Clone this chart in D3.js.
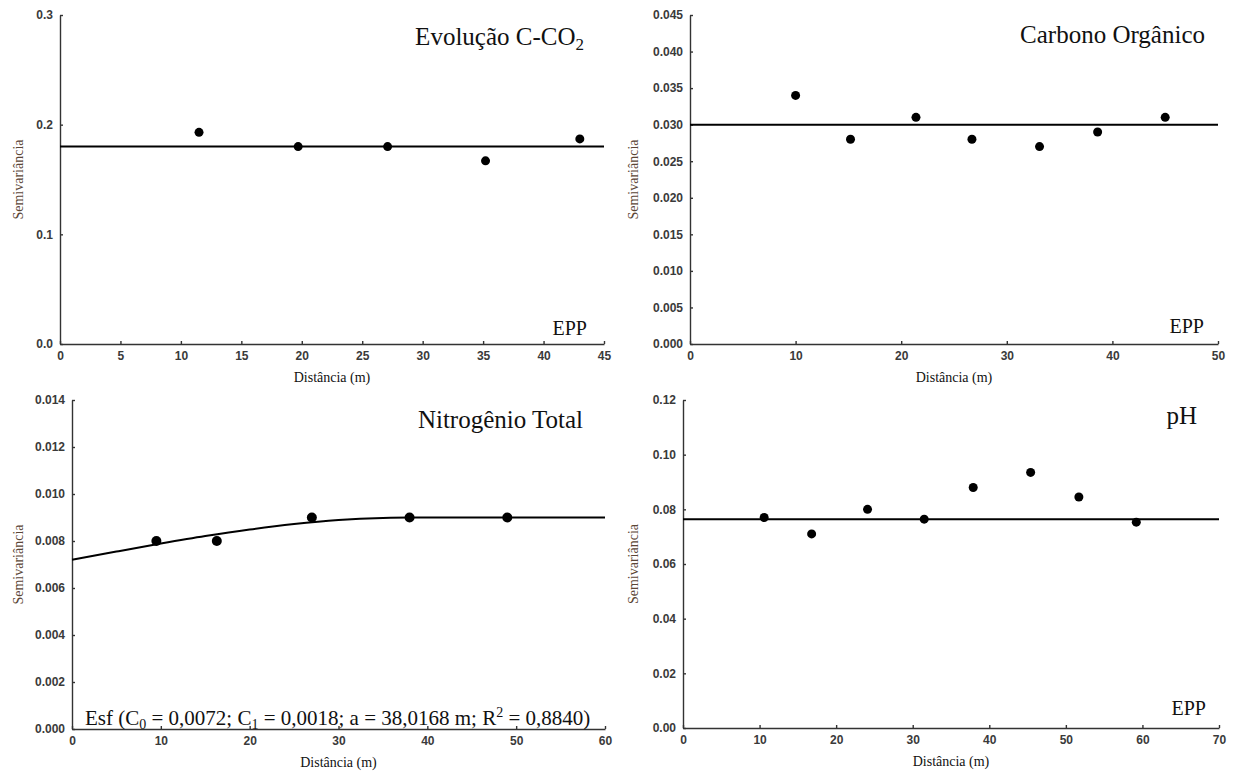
<!DOCTYPE html>
<html>
<head>
<meta charset="utf-8">
<script src="https://cdn.jsdelivr.net/npm/d3@7"></script>
<style>
  body { margin: 0; background: #fff; }
  .tick text { font-family: "Liberation Sans", Arial, sans-serif; font-size: 12px; font-weight: bold; fill: #3a3a3a; }
  .domain, .tick line { stroke: #333; stroke-width: 1.4; }
</style>
</head>
<body>
<svg id="chart" width="1235" height="772"></svg>
<script>

// Evolução C-CO2
var co2Lag = [11.5, 19.7, 27.1, 35.2, 43.0];
var co2Gamma = [0.193, 0.180, 0.180, 0.167, 0.187];
var co2Sill = 0.180;

// Carbono Orgânico
var cotLag = [10.0, 15.2, 21.4, 26.7, 33.1, 38.6, 45.0];
var cotGamma = [0.034, 0.028, 0.031, 0.028, 0.027, 0.029, 0.031];
var cotSill = 0.030;

// Nitrogênio Total (pontos e modelo esférico)
var ntLag = [9.5, 16.3, 27.0, 38.0, 49.0];
var ntGamma = [0.0080, 0.0080, 0.0090, 0.0090, 0.0090];
var ntModelLag = [0, 5, 10, 15, 20, 25, 30, 35, 38, 45, 60];
var ntModelGamma = [0.0072, 0.00755, 0.00789, 0.00821, 0.00849, 0.00872, 0.00889, 0.00898, 0.0090, 0.0090, 0.0090];

// pH
var phLag = [10.6, 16.8, 24.1, 31.5, 37.9, 45.4, 51.7, 59.2];
var phGamma = [0.077, 0.071, 0.080, 0.0764, 0.088, 0.0935, 0.0845, 0.0753];
var phSill = 0.0764;

var svg = d3.select('#chart');
var serif = '"Liberation Serif", "Times New Roman", serif';

function zip(a, b) { return a.map(function(d, i){ return [d, b[i]]; }); }

function drawPanel(p) {
  var x = d3.scaleLinear().domain(p.xDomain).range([p.left, p.right]);
  var y = d3.scaleLinear().domain(p.yDomain).range([p.bottom, p.top]);
  var g = svg.append('g');

  // Axes (inner ticks)
  g.append('g')
    .attr('transform', 'translate(0,' + p.bottom + ')')
    .call(d3.axisBottom(x).tickValues(d3.range(p.xDomain[0], p.xDomain[1] + 0.001, p.xStep))
      .tickSizeInner(-3).tickSizeOuter(0).tickPadding(7));

  g.append('g')
    .attr('transform', 'translate(' + p.left + ',0)')
    .call(d3.axisLeft(y).tickValues(d3.range(0, p.yDomain[1] + p.yStep / 2, p.yStep))
      .tickFormat(d3.format(p.yFormat))
      .tickSizeInner(-3).tickSizeOuter(0).tickPadding(7));

  // Model line
  var line = d3.line().x(function(d){ return x(d[0]); }).y(function(d){ return y(d[1]); });
  var model = p.model || [[p.xDomain[0], p.sill], [p.xDomain[1], p.sill]];
  g.append('path')
    .datum(model)
    .attr('d', p.model ? line.curve(d3.curveMonotoneX) : line)
    .attr('fill', 'none')
    .attr('stroke', '#000')
    .attr('stroke-width', 2);

  // Points
  g.selectAll('circle')
    .data(p.points)
    .enter()
    .append('circle')
    .attr('cx', function(d){ return x(d[0]); })
    .attr('cy', function(d){ return y(d[1]); })
    .attr('r', p.r || 4.5)
    .attr('fill', '#000');

  // Axis titles
  g.append('text')
    .attr('x', (p.left + p.right) / 2)
    .attr('y', p.bottom + 38)
    .attr('text-anchor', 'middle')
    .style('font-family', serif)
    .style('font-size', '14px')
    .style('fill', '#111')
    .text('Distância (m)');

  g.append('text')
    .attr('transform', 'translate(' + p.yLabelX + ',' + ((p.top + p.bottom) / 2) + ') rotate(-90)')
    .attr('text-anchor', 'middle')
    .attr('dy', '0.35em')
    .style('font-family', serif)
    .style('font-size', '14px')
    .style('fill', '#5b4636')
    .attr('textLength', 80)
    .attr('lengthAdjust', 'spacingAndGlyphs')
    .text('Semivariância');

  // Panel title
  var t = g.append('text')
    .attr('x', p.titleX)
    .attr('y', p.titleY)
    .attr('text-anchor', 'end')
    .style('font-family', serif)
    .style('font-size', '25px')
    .style('fill', '#111');
  t.append('tspan').text(p.title);
  if (p.titleSub) {
    t.append('tspan').attr('dy', 5).style('font-size', '17px').text(p.titleSub);
  }

  if (p.epp) {
    g.append('text')
      .attr('x', p.epp[0])
      .attr('y', p.epp[1])
      .attr('text-anchor', 'end')
      .style('font-family', serif)
      .style('font-size', '20px')
      .style('fill', '#111')
      .text('EPP');
  }
  return g;
}

drawPanel({
  left: 60, right: 604, top: 15, bottom: 344,
  xDomain: [0, 45], xStep: 5, yDomain: [0, 0.3], yStep: 0.1, yFormat: '.1f',
  sill: co2Sill, points: zip(co2Lag, co2Gamma),
  yLabelX: 18, title: 'Evolução C-CO', titleSub: '2', titleX: 584, titleY: 45,
  epp: [587, 335]
});

drawPanel({
  left: 690, right: 1218, top: 15, bottom: 344,
  xDomain: [0, 50], xStep: 10, yDomain: [0, 0.045], yStep: 0.005, yFormat: '.3f',
  sill: cotSill, points: zip(cotLag, cotGamma),
  yLabelX: 633, title: 'Carbono Orgânico', titleX: 1205, titleY: 43,
  epp: [1204, 333]
});

var nt = drawPanel({
  left: 72, right: 605, top: 400, bottom: 729,
  xDomain: [0, 60], xStep: 10, yDomain: [0, 0.014], yStep: 0.002, yFormat: '.3f',
  model: zip(ntModelLag, ntModelGamma), points: zip(ntLag, ntGamma), r: 5,
  yLabelX: 18, title: 'Nitrogênio Total', titleX: 583, titleY: 428
});

// Equation of the spherical model
var eq = nt.append('text')
  .attr('x', 85)
  .attr('y', 725)
  .style('font-family', serif)
  .style('font-size', '21px')
  .style('fill', '#111');
eq.append('tspan').text('Esf (C');
eq.append('tspan').attr('dy', 4).style('font-size', '14px').text('0');
eq.append('tspan').attr('dy', -4).text(' = 0,0072; C');
eq.append('tspan').attr('dy', 4).style('font-size', '14px').text('1');
eq.append('tspan').attr('dy', -4).text(' = 0,0018; a = 38,0168 m; R');
eq.append('tspan').attr('dy', -8).style('font-size', '14px').text('2');
eq.append('tspan').attr('dy', 8).text(' = 0,8840)');

drawPanel({
  left: 683, right: 1219, top: 400, bottom: 728,
  xDomain: [0, 70], xStep: 10, yDomain: [0, 0.12], yStep: 0.02, yFormat: '.2f',
  sill: phSill, points: zip(phLag, phGamma),
  yLabelX: 633, title: 'pH', titleX: 1197, titleY: 424,
  epp: [1206, 715]
});

</script>
</body>
</html>
